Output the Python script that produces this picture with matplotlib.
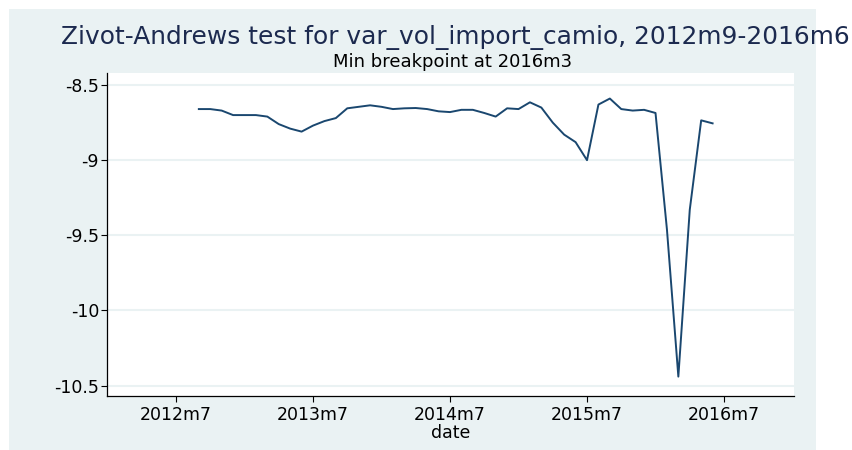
from matplotlib import pyplot as plt
from matplotlib.patches import Rectangle
import numpy as np

# monthly series, 2012m9 .. 2016m6
START_MONTH = 2  # months after 2012m7
values = [-8.66, -8.66, -8.67, -8.70, -8.70, -8.70, -8.71, -8.76, -8.79, -8.81,
          -8.77, -8.74, -8.72, -8.655, -8.645, -8.635, -8.645, -8.66, -8.655, -8.653,
          -8.66, -8.675, -8.68, -8.665, -8.665, -8.686, -8.71, -8.655, -8.66, -8.615,
          -8.65, -8.75, -8.83, -8.88, -9.00, -8.63, -8.59, -8.66, -8.67, -8.665,
          -8.686, -9.46, -10.44, -9.33, -8.735, -8.755]

xTickLabels = ["2012m7", "2013m7", "2014m7", "2015m7", "2016m7"]
yTicks = [-8.5, -9, -9.5, -10, -10.5]
yTickLabels = ["-8.5", "-9", "-9.5", "-10", "-10.5"]

TITLE = "Zivot-Andrews test for var_vol_import_camio, 2012m9-2016m6"
SUBTITLE = "Min breakpoint at 2016m3"

BG = "#eaf2f3"
LINE = "#1a476f"

plt.rcParams['font.family'] = ['DejaVu Sans']

fig = plt.figure(figsize=(8.53, 4.5), dpi=100)
fig.patch.set_facecolor("white")
fig.patches.append(Rectangle((9 / 853, 0), (816 - 9) / 853, 1 - 9 / 450,
                             transform=fig.transFigure, facecolor=BG,
                             edgecolor="none", zorder=-10))

ax = fig.add_axes([106.7 / 853, 1 - 395.7 / 450, (794 - 106.7) / 853, (395.7 - 73) / 450])
ax.set_facecolor("white")

months = np.arange(len(values)) + START_MONTH
ax.plot(months, values, color=LINE, linewidth=1.4, zorder=3)

ax.set_xlim(-6.07, 54.13)
ax.set_ylim(-10.567, -8.42)

ax.set_xticks(np.arange(len(xTickLabels)) * 12)
ax.set_xticklabels(xTickLabels)
ax.set_yticks(yTicks)
ax.set_yticklabels(yTickLabels)

ax.tick_params(axis='both', direction='out', length=4, width=0.8, colors='black',
               labelsize=12.5)
ax.tick_params(axis='y', pad=1.5)
ax.tick_params(axis='x', pad=3.5)

for sp in ['top', 'right']:
    ax.spines[sp].set_visible(False)
for sp in ['left', 'bottom']:
    ax.spines[sp].set_linewidth(0.9)
    ax.spines[sp].set_color('black')

ax.yaxis.grid(True, color=BG, linewidth=1.5, zorder=0)
ax.set_axisbelow(True)

ax.set_xlabel("date", fontsize=12.5, labelpad=0)

fig.text(0.5335, 0.916, TITLE, ha='center', va='center', fontsize=17.9, color="#1c2a4f")
fig.text(0.530, 0.862, SUBTITLE, ha='center', va='center', fontsize=13, color="black")

fig.savefig("out.png", dpi=100)
